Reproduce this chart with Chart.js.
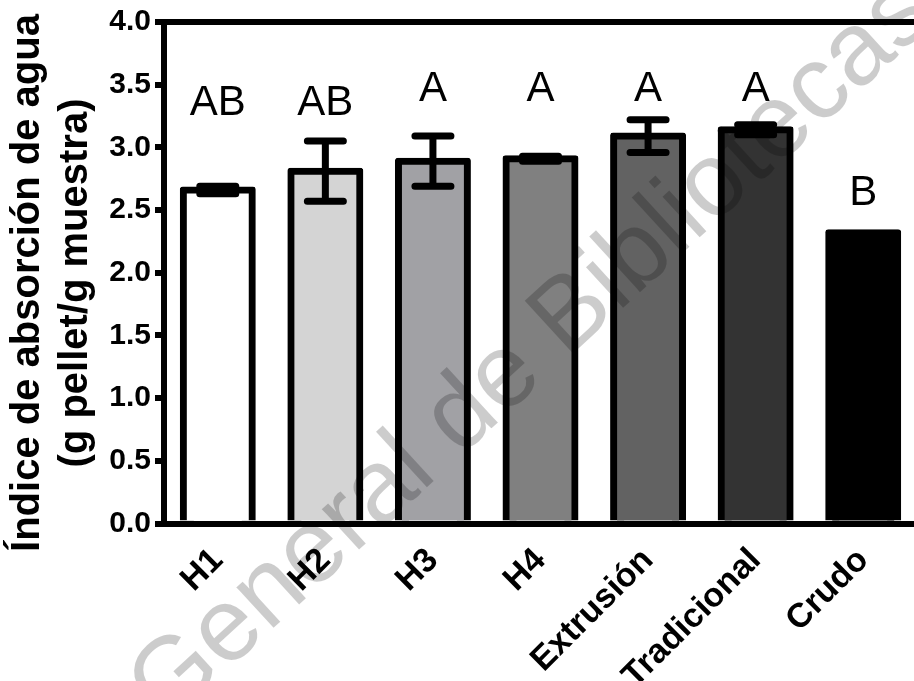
<!DOCTYPE html>
<html>
<head>
<meta charset="utf-8">
<script src="https://cdn.jsdelivr.net/npm/chart.js@4/dist/chart.umd.min.js"></script>
<style>
  html, body { margin: 0; padding: 0; background: #fff; overflow: hidden; }
  #wrap { width: 917px; height: 681px; position: relative; }
</style>
</head>
<body>
<div id="wrap"><canvas id="bars"></canvas></div>
<script>
// data
var categories = ['H1', 'H2', 'H3', 'H4', 'Extrusión', 'Tradicional', 'Crudo'];
var means      = [2.66, 2.81, 2.89, 2.91, 3.09, 3.14, 2.32];
var errors     = [0.03, 0.24, 0.20, 0.02, 0.13, 0.04, 0];
var letters    = ['AB', 'AB', 'A', 'A', 'A', 'A', 'B'];
var letterAt   = [3.38, 3.38, 3.49, 3.49, 3.49, 3.49, 2.66];
var fills      = ['#ffffff', '#d4d4d4', '#a1a1a5', '#808080', '#626262', '#333333', '#000000'];
var yTitle     = ['Índice de absorción de agua', '(g pellet/g muestra)'];
var watermark  = 'Dirección General de Bibliotecas';

var FONT = 'Arial, "Liberation Sans", Helvetica, sans-serif';

// error bars, letters, axis title and the watermark
var extras = {
  id: 'extras',
  afterDatasetsDraw(chart) {
    var ctx = chart.ctx;
    var x = chart.scales.x, y = chart.scales.y;
    ctx.save();
    ctx.strokeStyle = '#000';
    ctx.lineWidth = 7;
    means.forEach(function (m, i) {
      if (!errors[i]) return;
      var px = x.getPixelForValue(i);
      var hi = y.getPixelForValue(m + errors[i]);
      var lo = y.getPixelForValue(m - errors[i]);
      ctx.lineCap = 'butt';
      ctx.beginPath(); ctx.moveTo(px, hi); ctx.lineTo(px, lo); ctx.stroke();
      ctx.lineCap = 'round';
      ctx.beginPath();
      ctx.moveTo(px - 18, hi); ctx.lineTo(px + 18, hi);
      ctx.moveTo(px - 18, lo); ctx.lineTo(px + 18, lo);
      ctx.stroke();
    });
    ctx.fillStyle = '#000';
    ctx.font = '42px ' + FONT;
    ctx.textAlign = 'center';
    ctx.textBaseline = 'alphabetic';
    letters.forEach(function (t, i) {
      ctx.fillText(t, x.getPixelForValue(i), y.getPixelForValue(letterAt[i]) + 0.358 * 42);
    });
    ctx.restore();
  },
  afterDraw(chart) {
    var ctx = chart.ctx;
    // y title, two lines
    ctx.save();
    ctx.translate(0, 283);
    ctx.rotate(-Math.PI / 2);
    ctx.fillStyle = '#000';
    ctx.font = 'bold 40px ' + FONT;
    ctx.textAlign = 'center';
    ctx.textBaseline = 'middle';
    ctx.fillText(yTitle[0], 0, 28);
    ctx.fillText(yTitle[1], 0, 76);
    ctx.restore();

    ctx.save();
    ctx.translate(362, 508);
    ctx.rotate(-42.5 * Math.PI / 180);
    ctx.fillStyle = 'rgba(0,0,0,0.2)';
    ctx.font = '104px ' + FONT;
    ctx.textAlign = 'center';
    ctx.textBaseline = 'middle';
    ctx.fillText(watermark, 0, 0);
    ctx.restore();
  }
};

new Chart(document.getElementById('bars'), {
  type: 'bar',
  data: {
    labels: categories,
    datasets: [{
      data: means,
      backgroundColor: fills,
      borderColor: '#000',
      borderWidth: 7,
      inflateAmount: 3.5,   // centres the outline on the bar edge
      borderRadius: 3,
      barPercentage: 0.641,
      categoryPercentage: 1
    }]
  },
  options: {
    responsive: true,
    maintainAspectRatio: false,
    animation: false,
    events: [],
    layout: { padding: { top: 21.5, right: 0, left: 0, bottom: 0 } },
    plugins: { legend: { display: false }, tooltip: { enabled: false } },
    scales: {
      x: {
        z: 1,
        grid: { display: false },
        border: { display: true, color: '#000', width: 6 },
        ticks: {
          color: '#000', padding: 9, autoSkip: false,
          minRotation: 45, maxRotation: 45,
          font: { family: FONT, size: 34, weight: 'bold' }
        },
        afterFit(scale) { scale.height = 681 - 523.5; }
      },
      y: {
        z: 1,
        min: 0, max: 4,
        grid: {
          drawOnChartArea: true,
          color: function (c) { return c.tick && c.tick.value === 4 ? '#000' : 'rgba(0,0,0,0)'; },
          lineWidth: 6,
          tickColor: '#000',
          tickWidth: 6,
          tickLength: 9
        },
        border: { display: true, color: '#000', width: 6 },
        ticks: {
          stepSize: 0.5, color: '#000', padding: 4,
          font: { family: FONT, size: 30, weight: 'bold' },
          callback: function (v) { return v.toFixed(1); }
        },
        afterFit(scale) { scale.width = 164; }
      }
    }
  },
  plugins: [extras]
});
</script>
</body>
</html>
